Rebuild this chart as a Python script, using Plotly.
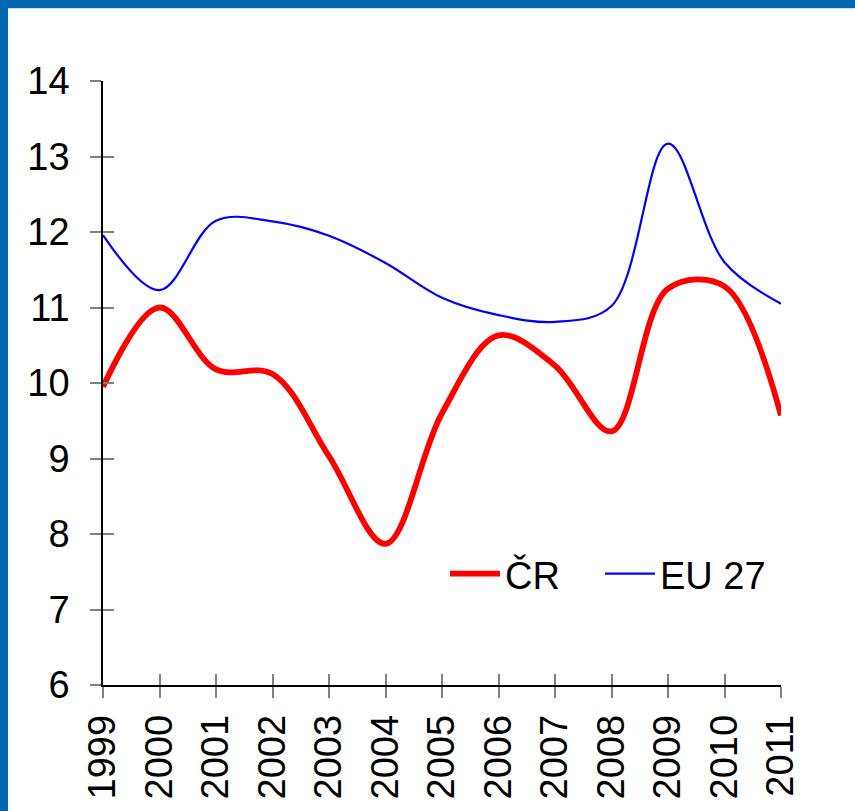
import plotly.graph_objects as go

years = [1999, 2000, 2001, 2002, 2003, 2004, 2005, 2006, 2007, 2008, 2009, 2010, 2011]
year_labels = [str(y) for y in years]
cr = [9.95, 11.0, 10.18, 10.12, 9.03, 7.87, 9.6, 10.63, 10.23, 9.36, 11.25, 11.28, 9.57]
eu27 = [11.96, 11.23, 12.15, 12.14, 11.95, 11.59, 11.13, 10.9, 10.81, 11.02, 13.17, 11.6, 11.05]
y_ticks = [6, 7, 8, 9, 10, 11, 12, 13, 14]

W, H = 855, 811
L, R, T, B = 103, 74, 81, 126
pw, ph = W - L - R, H - T - B

fig = go.Figure()
fig.add_trace(go.Scatter(x=years, y=cr, name="ČR", mode="lines", legend="legend",
                         line=dict(color="#ff0000", width=5.8, shape="spline", smoothing=1.0)))
fig.add_trace(go.Scatter(x=years, y=eu27, name="EU 27", mode="lines", legend="legend2",
                         line=dict(color="#0000ff", width=2.2, shape="spline", smoothing=1.0)))
# invisible trace to host the inner-tick axes
fig.add_trace(go.Scatter(x=[years[0]], y=[y_ticks[0]], xaxis="x2", yaxis="y2", mode="markers",
                         marker=dict(opacity=0), showlegend=False, hoverinfo="skip"))

font = "Liberation Sans, Arial, sans-serif"
fs = 38
leg_y = (H - B - 574) / ph
legend_common = dict(orientation="h", xanchor="left", yanchor="middle", y=leg_y,
                     bgcolor="rgba(0,0,0,0)", font=dict(size=fs), itemwidth=50)
fig.update_layout(
    width=W, height=H,
    margin=dict(l=L, r=R, t=T, b=B, autoexpand=False),
    paper_bgcolor="white", plot_bgcolor="white",
    font=dict(family=font, size=fs, color="black"),
    showlegend=True,
    legend=dict(x=(445 - L) / pw, **legend_common),
    legend2=dict(x=(600 - L) / pw, **legend_common),
    xaxis=dict(range=[1999, 2011], tickvals=years, ticktext=year_labels, tickangle=-90,
               automargin=False,
               showgrid=False, zeroline=False, showline=True, linecolor="black", linewidth=1.5,
               ticks="outside", ticklen=11, tickcolor="#808080", tickwidth=1.5,
               ticklabelstandoff=2, tickfont=dict(size=fs)),
    yaxis=dict(range=[6, 14], tickvals=y_ticks, showgrid=False, zeroline=False,
               automargin=False,
               showline=True, linecolor="black", linewidth=1.5,
               ticks="outside", ticklen=11, tickcolor="#808080", tickwidth=1.5,
               ticklabelstandoff=13, tickfont=dict(size=fs)),
    xaxis2=dict(range=[1999, 2011], tickvals=years, overlaying="x", anchor="y2",
                automargin=False,
                showticklabels=False, showgrid=False, zeroline=False, showline=False,
                ticks="inside", ticklen=11, tickcolor="#808080", tickwidth=1.5),
    yaxis2=dict(range=[6, 14], tickvals=y_ticks, overlaying="y", anchor="x2",
                automargin=False,
                showticklabels=False, showgrid=False, zeroline=False, showline=False,
                ticks="inside", ticklen=11, tickcolor="#808080", tickwidth=1.5),
    shapes=[
        dict(type="rect", xref="paper", yref="paper", layer="below",
             x0=-L / pw, x1=-(L - 8) / pw, y0=-B / ph, y1=1 + T / ph,
             fillcolor="#0066b0", line=dict(width=0)),
        dict(type="rect", xref="paper", yref="paper", layer="below",
             x0=-L / pw, x1=1 + R / pw, y0=1 + (T - 8) / ph, y1=1 + T / ph,
             fillcolor="#0066b0", line=dict(width=0)),
        dict(type="line", xref="paper", yref="paper", layer="below",
             x0=-(L - 8) / pw, x1=1 + R / pw, y0=1 + (T - 8.5) / ph, y1=1 + (T - 8.5) / ph,
             line=dict(color="#d8d8d8", width=1)),
    ],
)

fig.write_html("out.html", config={"displayModeBar": False},
               post_script="document.body.style.margin='0px';document.body.style.overflow='hidden';")
